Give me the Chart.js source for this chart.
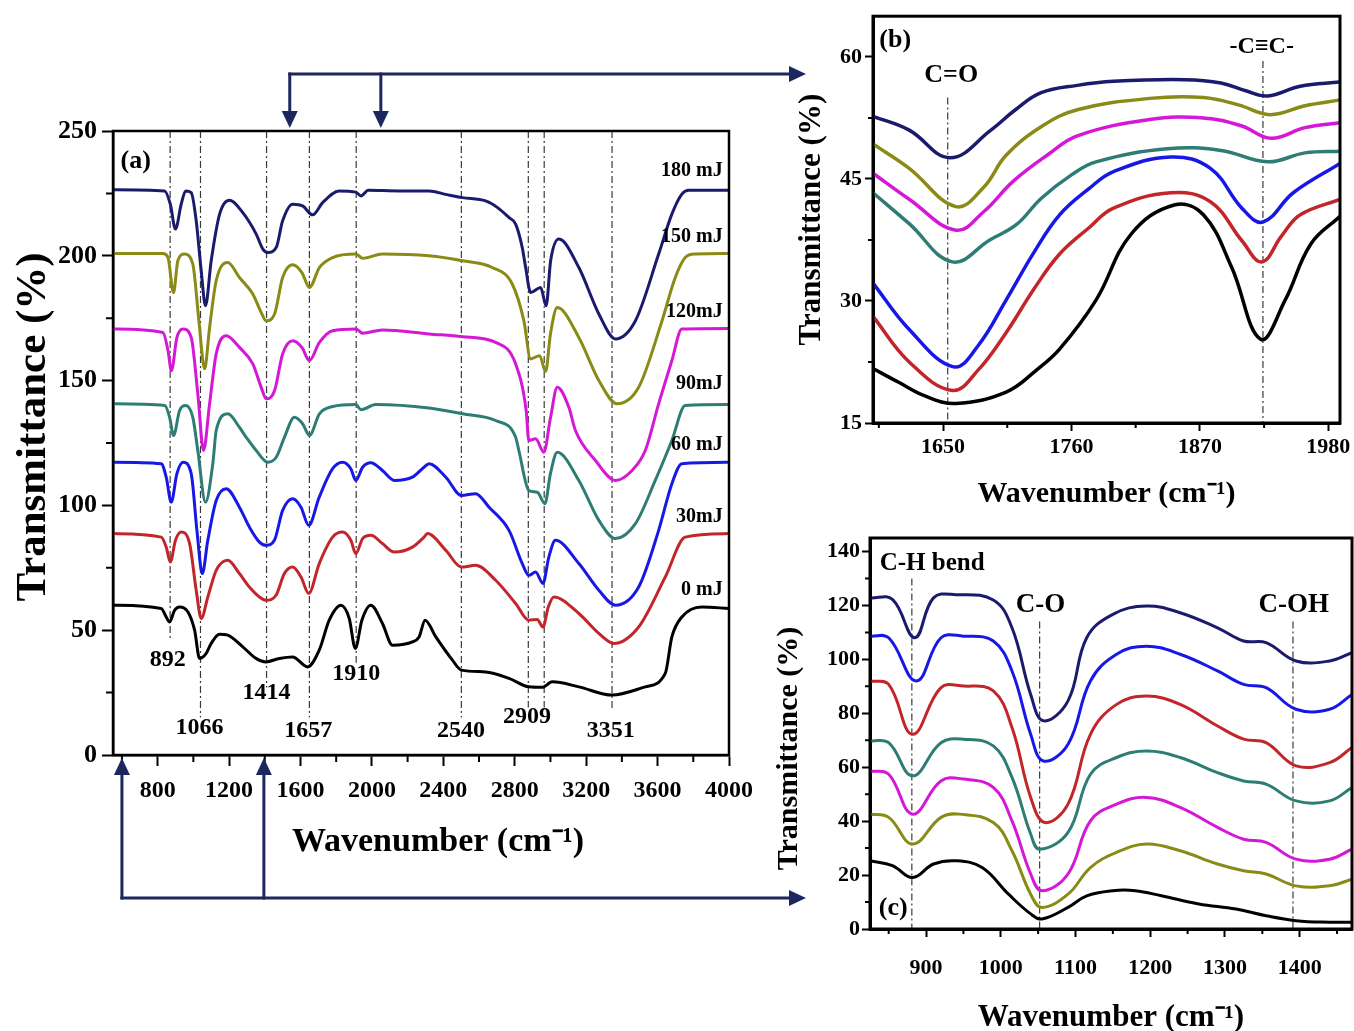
<!DOCTYPE html>
<html lang="en">
<head>
    <meta charset="UTF-8">
    <title>FTIR | Transmittance spectra</title>
    <script src="https://cdn.jsdelivr.net/npm/chart.js"></script>
    <style>
        body { margin: 0; background: #fff; }
        .figure { position: relative; width: 1354px; height: 1031px; overflow: hidden; background: #fff; }
        .figure canvas { position: absolute; }
    </style>
</head>
<body>
    <div class="figure">
        <canvas id="chartA" width="815" height="1031" style="left:0;top:0"></canvas>
        <canvas id="chartB" width="574" height="520" style="left:780px;top:0"></canvas>
        <canvas id="chartC" width="594" height="511" style="left:760px;top:520px"></canvas>
    </div>

    <script>
        // ---------- panel (a): full spectra 550-4000 cm-1 ----------
        const aTicksX = [800, 1200, 1600, 2000, 2400, 2800, 3200, 3600, 4000];
        const aMinorX = [600, 1000, 1400, 1800, 2200, 2600, 3000, 3400, 3800];
        const aTicksY = [0, 50, 100, 150, 200, 250];
        const aMinorY = [25, 75, 125, 175, 225];

        const aX180 = [550, 839, 871, 900, 932, 957, 988, 1016, 1044, 1068, 1100, 1147, 1202, 1277, 1352, 1389, 1417, 1464, 1500, 1556, 1612, 1668, 1724, 1817, 1910, 1939, 1980, 2150, 2320, 2420, 2507, 2637, 2700, 2768, 2805, 2842, 2861, 2889, 2945, 2976, 3001, 3047, 3159, 3271, 3364, 3476, 3606, 3680, 3736, 3774, 4000];
        const aY180 = [226.5, 226, 220.7, 210.7, 220.7, 226, 225.3, 214, 194, 180, 198, 216.7, 222.3, 217.3, 208.7, 202.7, 201.3, 203.3, 214, 220.7, 220, 216.4, 221.3, 226, 225.5, 224, 226.3, 226, 226, 224.5, 223.3, 222, 219.5, 215.3, 212.7, 203.3, 195.3, 185.3, 187.3, 180, 198, 206.7, 195.3, 176.7, 166.7, 174, 200.7, 216.7, 224.7, 226.3, 226.3];
        const aX150 = [550, 830, 858, 889, 913, 950, 997, 1031, 1063, 1091, 1128, 1193, 1258, 1333, 1380, 1408, 1455, 1500, 1556, 1608, 1650, 1706, 1780, 1911, 1948, 2059, 2320, 2507, 2674, 2786, 2851, 2889, 2939, 2973, 3000, 3038, 3159, 3271, 3373, 3494, 3625, 3699, 3755, 3811, 4000];
        const aY150 = [200.9, 200.9, 199.3, 185.3, 198, 200.7, 196.7, 174, 154.7, 171.3, 190, 197.3, 191.3, 184.7, 177.3, 174, 176.7, 191.3, 196.4, 193.3, 187.3, 195.3, 199.3, 200.7, 199, 200.7, 200, 198, 195.3, 188.7, 174, 158.7, 160, 153.7, 168.7, 179.3, 167.3, 150, 140.7, 147.3, 174, 191.3, 199.3, 200.7, 200.9];
        const aX120 = [550, 830, 858, 877, 908, 941, 988, 1025, 1057, 1091, 1128, 1184, 1258, 1333, 1380, 1408, 1455, 1500, 1556, 1608, 1650, 1706, 1780, 1911, 1948, 2059, 2320, 2507, 2693, 2805, 2864, 2879, 2917, 2963, 3000, 3038, 3103, 3140, 3252, 3364, 3457, 3531, 3606, 3680, 3736, 4000];
        const aY120 = [170.7, 169.3, 162, 154, 167.3, 170.7, 167.3, 144.7, 122, 140.7, 160.7, 168, 163.3, 156.7, 147.3, 142.7, 146, 160.7, 166, 163.3, 158, 165.3, 170, 170.7, 169, 170.3, 168.7, 167.6, 165.3, 156.7, 138, 126, 126.7, 121.3, 135, 147.3, 139.3, 130, 118, 110, 114, 122, 140.7, 158, 170.7, 170.9];
        const aX90 = [550, 840, 867, 889, 923, 957, 997, 1025, 1068, 1109, 1128, 1193, 1258, 1296, 1352, 1417, 1464, 1510, 1566, 1612, 1650, 1706, 1780, 1911, 1939, 2022, 2320, 2507, 2693, 2805, 2823, 2879, 2926, 2969, 3000, 3038, 3159, 3271, 3364, 3476, 3587, 3680, 3755, 4000];
        const aY90 = [140.7, 140, 135.3, 128, 138, 140, 135.3, 122, 101.3, 116.7, 130, 136.7, 131.3, 127.3, 122, 117.3, 119.3, 127.3, 135.3, 132.7, 128, 136.7, 139.6, 140.4, 138.3, 140.4, 139, 136.7, 134, 127.3, 122, 106, 105.3, 100.7, 112.7, 121.3, 110, 94, 86.7, 92.7, 110, 126, 140, 140.4];
        const aX60 = [550, 820, 848, 876, 908, 942, 988, 1020, 1050, 1081, 1128, 1184, 1258, 1314, 1370, 1407, 1454, 1500, 1556, 1603, 1646, 1705, 1780, 1836, 1882, 1910, 1948, 1994, 2059, 2125, 2227, 2292, 2320, 2414, 2501, 2581, 2656, 2768, 2842, 2879, 2917, 2958, 2991, 3028, 3159, 3271, 3364, 3494, 3606, 3680, 3736, 4000];
        const aY60 = [117.3, 116.7, 111.3, 101.3, 112.7, 117.3, 112.7, 90, 72.7, 86, 102, 106.7, 99.3, 91.3, 85.3, 84, 86, 98, 102.7, 99.3, 92, 103.3, 114.7, 117.3, 114.7, 110, 115.3, 117.1, 114, 110, 111.3, 115.3, 116.7, 111.3, 104, 104.7, 99.3, 90, 76.7, 72, 73.3, 68.7, 79.3, 86, 76.7, 66, 60, 67.3, 90, 108.7, 116.7, 117.3];
        const aX30 = [550, 820, 848, 871, 900, 932, 979, 1016, 1044, 1081, 1128, 1193, 1258, 1314, 1370, 1407, 1463, 1510, 1556, 1603, 1646, 1705, 1780, 1836, 1882, 1910, 1948, 1994, 2059, 2125, 2227, 2292, 2311, 2414, 2501, 2581, 2693, 2805, 2879, 2926, 2958, 2988, 3019, 3159, 3271, 3354, 3494, 3643, 3755, 4000];
        const aY30 = [88.7, 87.3, 83.3, 77.3, 86, 89.3, 84.7, 66, 54.7, 63.3, 74, 78, 72.7, 67.3, 63.3, 62, 64, 72.7, 75.3, 71.3, 64.7, 76.7, 87.3, 89.3, 86, 80.7, 86.7, 88, 84.7, 81.3, 83.3, 87.3, 88.7, 82, 75.3, 76, 70, 60.7, 54, 54.3, 51.3, 59.3, 63.3, 56.7, 48.7, 44.7, 51.3, 71.3, 87.3, 88.7];
        const aX0 = [550, 820, 848, 867, 895, 923, 970, 1007, 1035, 1072, 1100, 1146, 1193, 1277, 1351, 1407, 1482, 1556, 1640, 1705, 1761, 1826, 1873, 1907, 1944, 1994, 2059, 2115, 2227, 2264, 2298, 2358, 2451, 2501, 2637, 2768, 2879, 2954, 3010, 3159, 3345, 3531, 3643, 3680, 3736, 3848, 4000];
        const aY0 = [60, 58.7, 55.3, 53.3, 58, 59.3, 57.3, 50, 38.7, 40.7, 44.7, 48.4, 48, 43.3, 38.7, 37.3, 38.7, 39.3, 35.3, 42, 54, 60, 54.7, 42.7, 54, 60, 52.7, 44, 45.3, 47.3, 54, 47.3, 38, 34, 33.3, 30.7, 27.3, 27.1, 29.3, 27.3, 24, 27.3, 32.7, 47.3, 55.3, 59.3, 58.7];

        const aNames = ['180 mJ', '150 mJ', '120mJ', '90mJ', '60 mJ', '30mJ', '0 mJ'];
        const aNameY = [234, 207.6, 177.6, 148.8, 124.4, 95.6, 66];
        const aRefX = [870, 1040, 1410, 1650, 1912, 2501, 2876, 2965, 3345];
        const aRefEnd = [46, 15, 27, 15, 37, 15, 19, 19, 18];
        const aPeakText = ['892', '1066', '1414', '1657', '1910', '2540', '2909', '3351'];
        const aPeakX = [856, 1035, 1409, 1644, 1912, 2499, 2868, 3338];
        const aPeakY = [38, 10.8, 24.8, 9.6, 32.4, 9.6, 15.2, 9.6];
        const arrowTopX = [1540, 2050];     // zoom region of panel (b)
        const arrowBottomX = [600, 1395];   // zoom region of panel (c)

        // ---------- panel (b): 1590-1990 cm-1 ----------
        const bTicksX = [1650, 1760, 1870, 1980];
        const bMinorX = [1595, 1705, 1815, 1925];
        const bTicksY = [15, 30, 45, 60];
        const bMinorY = [22.5, 37.5, 52.5];

        const bXnavy = [1590, 1621, 1656, 1691, 1712, 1734, 1765, 1796, 1857, 1888, 1910, 1928, 1956, 1990];
        const bYnavy = [52.7, 51.0, 47.6, 51.0, 53.5, 55.6, 56.5, 57.0, 57.2, 56.8, 55.8, 55.2, 56.4, 56.9];
        const bXolive = [1590, 1621, 1661, 1685, 1704, 1735, 1765, 1827, 1873, 1903, 1930, 1960, 1990];
        const bYolive = [49.3, 46.3, 41.6, 44.0, 47.9, 51.5, 53.5, 54.9, 55.0, 54.1, 52.9, 54.0, 54.7];
        const bXmagenta = [1590, 1621, 1661, 1685, 1710, 1740, 1765, 1827, 1873, 1906, 1931, 1960, 1990];
        const bYmagenta = [45.7, 42.5, 38.7, 41.0, 44.7, 48.0, 50.3, 52.3, 52.5, 51.5, 50.0, 51.3, 51.9];
        const bXteal = [1590, 1621, 1658, 1690, 1713, 1734, 1760, 1781, 1842, 1888, 1928, 1960, 1990];
        const bYteal = [43.3, 39.5, 34.8, 37.5, 39.4, 42.6, 45.5, 47.1, 48.7, 48.5, 47.1, 48.2, 48.4];
        const bXblue = [1590, 1621, 1659, 1680, 1704, 1728, 1750, 1775, 1796, 1845, 1879, 1906, 1924, 1950, 1990];
        const bYblue = [32.2, 26.5, 21.9, 24.5, 30.1, 36.0, 40.6, 43.8, 45.9, 47.7, 46.3, 41.4, 39.7, 43.3, 46.9];
        const bXred = [1590, 1621, 1658, 1680, 1704, 1728, 1750, 1775, 1796, 1845, 1879, 1906, 1923, 1940, 1956, 1990];
        const bYred = [28.1, 22.5, 19.0, 21.5, 26.1, 31.5, 35.8, 39.0, 41.4, 43.3, 42.2, 37.4, 34.8, 38.0, 40.6, 42.5];
        const bXblack = [1590, 1612, 1635, 1661, 1704, 1730, 1750, 1781, 1811, 1848, 1873, 1897, 1922, 1943, 1965, 1990];
        const bYblack = [21.7, 20.0, 18.3, 17.4, 18.8, 21.5, 24.1, 30.1, 38.2, 41.8, 40.6, 34.2, 25.3, 30.1, 37.0, 40.4];
        const bRefX = [1654, 1924];
        const bRefTop = [55, 59.5];

        // ---------- panel (c): 825-1470 cm-1 ----------
        const cTicksX = [900, 1000, 1100, 1200, 1300, 1400];
        const cMinorX = [850, 950, 1050, 1150, 1250, 1350, 1450];
        const cTicksY = [0, 20, 40, 60, 80, 100, 120, 140];
        const cMinorY = [10, 30, 50, 70, 90, 110, 130];

        const cXnavy = [825, 855, 885, 910, 940, 990, 1015, 1040, 1057, 1090, 1115, 1150, 1195, 1240, 1290, 1325, 1355, 1395, 1440, 1470];
        const cYnavy = [122.8, 122.2, 108, 122.8, 124, 122, 111.7, 87, 77.2, 84.6, 108, 116.7, 119.8, 117.3, 111.7, 106.8, 106.2, 99.4, 99.4, 102.5];
        const cXblue = [825, 850, 887, 920, 950, 990, 1015, 1040, 1057, 1090, 1120, 1155, 1195, 1240, 1290, 1325, 1355, 1395, 1440, 1470];
        const cYblue = [108.6, 108, 92, 108, 108.6, 106.8, 95.7, 72.2, 62.3, 68.5, 92, 101.9, 104.9, 101.9, 95.7, 90.7, 89.5, 81.5, 81.5, 87];
        const cXred = [825, 850, 882, 920, 950, 990, 1015, 1040, 1059, 1090, 1120, 1155, 1195, 1240, 1290, 1325, 1355, 1395, 1440, 1470];
        const cYred = [92, 90.7, 72.2, 89.5, 90.1, 88.3, 74.7, 48.8, 39.5, 46.3, 72.2, 83.3, 86.4, 83.3, 75.3, 70.4, 69.1, 60.5, 61.7, 67.3];
        const cXteal = [825, 850, 882, 920, 950, 990, 1015, 1040, 1052, 1090, 1120, 1155, 1195, 1240, 1290, 1325, 1355, 1395, 1440, 1470];
        const cYteal = [69.8, 69.1, 56.8, 69.1, 70.4, 67.9, 56.2, 35.2, 29.6, 35.8, 57.4, 63.6, 66, 63.6, 58, 54.9, 53.7, 47.5, 47.5, 52.5];
        const cXmagenta = [825, 850, 882, 920, 950, 990, 1015, 1040, 1055, 1090, 1120, 1155, 1195, 1240, 1290, 1325, 1355, 1395, 1440, 1470];
        const cYmagenta = [58.6, 57.4, 42.6, 54.9, 55.6, 52.5, 40.1, 20.4, 14.2, 20.4, 40.1, 46.3, 48.8, 45.1, 37.7, 33.3, 32.1, 25.9, 25.9, 29.6];
        const cXolive = [825, 850, 882, 920, 945, 990, 1015, 1040, 1055, 1090, 1120, 1155, 1195, 1240, 1290, 1325, 1355, 1395, 1440, 1470];
        const cYolive = [42.6, 41.4, 31.5, 41.4, 42.6, 39.5, 29, 12.9, 8, 12.9, 22.8, 28.4, 31.5, 29, 24.1, 21.6, 20.4, 16, 16, 18.5];
        const cXblack = [825, 855, 882, 910, 940, 975, 1010, 1040, 1055, 1090, 1115, 1150, 1180, 1215, 1265, 1315, 1355, 1395, 1440, 1470];
        const cYblack = [25.3, 23.5, 19.1, 24.1, 25.3, 22.8, 13, 5.6, 3.7, 8, 12.3, 14.2, 14.2, 12.3, 9.3, 7.4, 4.9, 3.1, 2.5, 2.5];
        const cRefX = [881, 1052, 1391];
        const cRefTop = [130, 114, 114];

        // colours of the seven pulse energies
        const NAVY = '#1b1b6e', OLIVE = '#8a8a16', MAGENTA = '#d418d6', TEAL = '#2e7d75',
              BLUE = '#1818e6', RED = '#c2262b', BLACK = '#000000';
        const FONT = "'Liberation Serif', 'Times New Roman', serif";

        Chart.defaults.font.family = FONT;
        Chart.defaults.font.weight = 'bold';
        Chart.defaults.color = '#000';

        function pts(xs, ys) {
            return xs.map((x, i) => ({ x: x, y: ys[i] }));
        }

        // smooth = true -> plain bezier (tension), else monotone cubic
        function curve(xs, ys, color, width, smooth) {
            const ds = { data: pts(xs, ys), borderColor: color, borderWidth: width, pointRadius: 0, fill: false };
            if (smooth) ds.tension = 0.4;
            else ds.cubicInterpolationMode = 'monotone';
            return ds;
        }

        // dash-dot marker line at one wavenumber
        function refLine(x, y0, y1) {
            return { data: [{ x: x, y: y0 }, { x: x, y: y1 }], borderColor: '#3a3a3a', borderWidth: 1.2,
                     borderDash: [7, 3, 2, 3], pointRadius: 0, fill: false };
        }

        function axis(o) {
            return {
                type: 'linear', min: o.min, max: o.max,
                afterBuildTicks: s => { s.ticks = o.ticks.map(v => ({ value: v })); },
                afterFit: s => { if (o.pos === 'x') s.height = o.size; else s.width = o.size; },
                grid: { drawOnChartArea: false, drawTicks: true, tickLength: o.tickLen, tickWidth: 2, tickColor: '#000' },
                border: { display: true, color: '#000', width: o.border },
                ticks: { font: { size: o.fontSize }, padding: o.pad, maxRotation: 0, autoSkip: false,
                         color: '#000', callback: v => String(v) },
                title: { display: true, text: o.title, color: '#000',
                         font: { size: o.titleSize, lineHeight: o.titleLH || 1.2 }, padding: o.titlePad }
            };
        }

        function drawArrow(ctx, x0, y0, x1, y1) {
            const ang = Math.atan2(y1 - y0, x1 - x0), L = 17, W = 8;
            const bx = x1 - L * Math.cos(ang), by = y1 - L * Math.sin(ang);
            ctx.beginPath(); ctx.moveTo(x0, y0); ctx.lineTo(bx, by); ctx.stroke();
            ctx.beginPath(); ctx.moveTo(x1, y1);
            ctx.lineTo(bx + W * Math.sin(ang), by - W * Math.cos(ang));
            ctx.lineTo(bx - W * Math.sin(ang), by + W * Math.cos(ang));
            ctx.closePath(); ctx.fill();
        }

        // box, minor ticks, text labels (and arrows for panel a)
        function framePlugin(cfg) {
            return {
                id: 'frame',
                afterDraw(chart) {
                    const ctx = chart.ctx, a = chart.chartArea, x = chart.scales.x, y = chart.scales.y;
                    ctx.save();
                    ctx.strokeStyle = '#000';
                    ctx.lineWidth = cfg.border;
                    ctx.strokeRect(a.left, a.top, a.right - a.left, a.bottom - a.top);

                    ctx.lineWidth = 2;
                    ctx.beginPath();
                    cfg.minorX.forEach(v => {
                        const p = x.getPixelForValue(v);
                        ctx.moveTo(p, a.bottom); ctx.lineTo(p, a.bottom + cfg.minorLen);
                    });
                    cfg.minorY.forEach(v => {
                        const p = y.getPixelForValue(v);
                        ctx.moveTo(a.left, p); ctx.lineTo(a.left - cfg.minorLen, p);
                    });
                    ctx.stroke();

                    ctx.fillStyle = '#000';
                    ctx.textBaseline = 'middle';
                    cfg.labels.forEach(l => {
                        ctx.font = 'bold ' + l.size + 'px ' + FONT;
                        ctx.textAlign = l.align || 'center';
                        ctx.fillText(l.text, x.getPixelForValue(l.x), y.getPixelForValue(l.y));
                    });

                    if (cfg.arrows) {
                        ctx.strokeStyle = ctx.fillStyle = '#1c2760';
                        ctx.lineWidth = 3;
                        const topY = 74, botY = 898, tipX = 806;
                        const t = arrowTopX.map(v => x.getPixelForValue(v));
                        const b = arrowBottomX.map(v => x.getPixelForValue(v));
                        drawArrow(ctx, t[0] - 1.5, topY, tipX, topY);
                        t.forEach(p => drawArrow(ctx, p, topY - 1.5, p, a.top - 3));
                        drawArrow(ctx, b[0] - 1.5, botY, tipX, botY);
                        b.forEach(p => drawArrow(ctx, p, botY + 1.5, p, a.bottom + 3));
                    }
                    ctx.restore();
                }
            };
        }

        const baseOptions = {
            responsive: false, animation: false, devicePixelRatio: 1, events: [],
            plugins: { legend: { display: false }, tooltip: { enabled: false } }
        };

        // ----- chart (a) -----
        const aLabels = [{ text: '(a)', x: 677, y: 238, size: 26 }];
        aPeakText.forEach((t, i) => aLabels.push({ text: t, x: aPeakX[i], y: aPeakY[i], size: 24 }));
        aNames.forEach((t, i) => aLabels.push({ text: t, x: 3965, y: aNameY[i], size: 20, align: 'right' }));

        new Chart(document.getElementById('chartA'), {
            type: 'line',
            data: {
                datasets: [
                    curve(aX180, aY180, NAVY, 3),
                    curve(aX150, aY150, OLIVE, 3),
                    curve(aX120, aY120, MAGENTA, 3),
                    curve(aX90, aY90, TEAL, 3),
                    curve(aX60, aY60, BLUE, 3),
                    curve(aX30, aY30, RED, 3),
                    curve(aX0, aY0, BLACK, 3)
                ].concat(aRefX.map((x, i) => refLine(x, 250, aRefEnd[i])))
            },
            options: Object.assign({}, baseOptions, {
                layout: { padding: { left: 0, right: 86, top: 131, bottom: 166 } },
                scales: {
                    x: axis({ min: 550, max: 4000, ticks: aTicksX, pos: 'x', size: 110, tickLen: 11, border: 2.5,
                              fontSize: 24, pad: 10, title: '    Wavenumber (cm\u207B\u00B9)', titleSize: 34,
                              titlePad: { top: 0, bottom: 2 } }),
                    y: axis({ min: 0, max: 250, ticks: aTicksY, pos: 'y', size: 113, tickLen: 11, border: 2.5,
                              fontSize: 26, pad: 5, title: '   Transmittance (%)', titleSize: 43,
                              titlePad: { top: 8, bottom: 0 } })
                }
            }),
            plugins: [framePlugin({ border: 2.5, minorX: aMinorX, minorY: aMinorY, minorLen: 7, labels: aLabels, arrows: true })]
        });

        // ----- chart (b) -----
        new Chart(document.getElementById('chartB'), {
            type: 'line',
            data: {
                datasets: [
                    curve(bXnavy, bYnavy, NAVY, 3.5, true),
                    curve(bXolive, bYolive, OLIVE, 3.5, true),
                    curve(bXmagenta, bYmagenta, MAGENTA, 3.5, true),
                    curve(bXteal, bYteal, TEAL, 3.5, true),
                    curve(bXblue, bYblue, BLUE, 3.5, true),
                    curve(bXred, bYred, RED, 3.5, true),
                    curve(bXblack, bYblack, BLACK, 3.5, true)
                ].concat(bRefX.map((x, i) => refLine(x, bRefTop[i], 15)))
            },
            options: Object.assign({}, baseOptions, {
                layout: { padding: { left: 0, right: 14, top: 13, bottom: 0 } },
                scales: {
                    x: axis({ min: 1590, max: 1990, ticks: bTicksX, pos: 'x', size: 97, tickLen: 8, border: 3,
                              fontSize: 22, pad: 3, title: 'Wavenumber (cm\u207B\u00B9)', titleSize: 30,
                              titlePad: { top: 0, bottom: 8 } }),
                    y: axis({ min: 15, max: 65, ticks: bTicksY, pos: 'y', size: 93, tickLen: 8, border: 3,
                              fontSize: 22, pad: 3, title: 'Transmittance (%)', titleSize: 31,
                              titlePad: { top: 13, bottom: 0 } })
                }
            }),
            plugins: [framePlugin({ border: 3, minorX: bMinorX, minorY: bMinorY, minorLen: 5, labels: [
                { text: '(b)', x: 1609, y: 62.1, size: 26 },
                { text: 'C=O', x: 1657, y: 57.7, size: 26 },
                { text: '-C\u2261C-', x: 1923, y: 61.3, size: 24 }
            ] })]
        });

        // ----- chart (c) -----
        new Chart(document.getElementById('chartC'), {
            type: 'line',
            data: {
                datasets: [
                    curve(cXnavy, cYnavy, NAVY, 3, true),
                    curve(cXblue, cYblue, BLUE, 3, true),
                    curve(cXred, cYred, RED, 3, true),
                    curve(cXteal, cYteal, TEAL, 3, true),
                    curve(cXmagenta, cYmagenta, MAGENTA, 3, true),
                    curve(cXolive, cYolive, OLIVE, 3, true),
                    curve(cXblack, cYblack, BLACK, 3, true)
                ].concat(cRefX.map((x, i) => refLine(x, cRefTop[i], 0)))
            },
            options: Object.assign({}, baseOptions, {
                layout: { padding: { left: 0, right: 2, top: 18, bottom: 0 } },
                scales: {
                    x: axis({ min: 825, max: 1470, ticks: cTicksX, pos: 'x', size: 102, tickLen: 8, border: 3,
                              fontSize: 22, pad: 18, title: 'Wavenumber (cm\u207B\u00B9)', titleSize: 31, titleLH: 1,
                              titlePad: { top: 0, bottom: -2 } }),
                    y: axis({ min: 0, max: 145, ticks: cTicksY, pos: 'y', size: 110, tickLen: 8, border: 3,
                              fontSize: 22, pad: 2, title: 'Transmittance (%)    ', titleSize: 30,
                              titlePad: { top: 11, bottom: 0 } })
                }
            }),
            plugins: [framePlugin({ border: 3, minorX: cMinorX, minorY: cMinorY, minorLen: 5, labels: [
                { text: '(c)', x: 856, y: 7.8, size: 26 },
                { text: 'C-H bend', x: 838, y: 135.6, size: 25, align: 'left' },
                { text: 'C-O', x: 1053, y: 120, size: 27 },
                { text: 'C-OH', x: 1392, y: 120, size: 27 }
            ] })]
        });
    </script>
</body>
</html>
